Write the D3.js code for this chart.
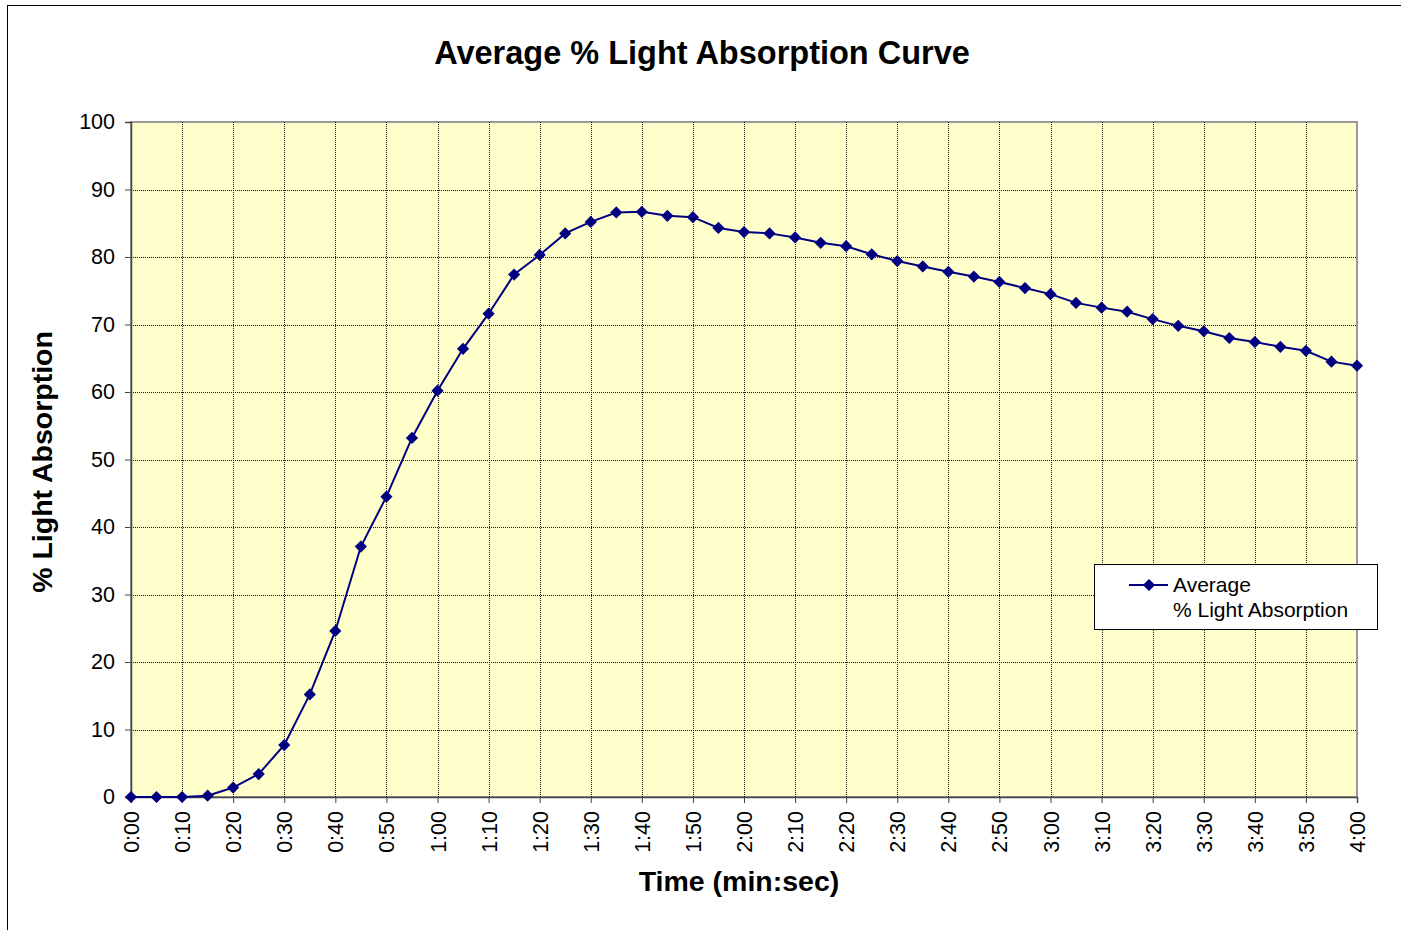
<!DOCTYPE html>
<html>
<head>
<meta charset="utf-8">
<script src="https://cdn.jsdelivr.net/npm/d3@7"></script>
<style>
  html, body { margin: 0; padding: 0; background: #fff; }
  svg { display: block; }
  text { font-family: "Liberation Sans", Arial, sans-serif; fill: #000; }
</style>
</head>
<body>
<svg id="chart" width="1401" height="930"></svg>
<script>
// Time in seconds (every 5 s from 0:00 to 4:00)
const seconds = [0,5,10,15,20,25,30,35,40,45,50,55,60,65,70,75,80,85,90,95,100,105,110,115,120,125,130,135,140,145,150,155,160,165,170,175,180,185,190,195,200,205,210,215,220,225,230,235,240];
const absorption = [0.0,0.0,0.0,0.2,1.4,3.4,7.7,15.2,24.6,37.1,44.5,53.2,60.2,66.4,71.6,77.4,80.3,83.5,85.2,86.6,86.7,86.1,85.9,84.3,83.7,83.5,82.9,82.1,81.6,80.4,79.4,78.6,77.8,77.1,76.3,75.4,74.5,73.2,72.5,71.9,70.8,69.8,69.0,68.0,67.4,66.7,66.1,64.5,63.9];
const xTicks = [0,10,20,30,40,50,60,70,80,90,100,110,120,130,140,150,160,170,180,190,200,210,220,230,240];
const yTicks = [0,10,20,30,40,50,60,70,80,90,100];
const title = "Average % Light Absorption Curve";
const xTitle = "Time (min:sec)";
const yTitle = "% Light Absorption";
const legendLines = ["Average", "% Light Absorption"];

const fmt = s => Math.floor(s/60) + ":" + String(s%60).padStart(2,"0");

const svg = d3.select("#chart");
const L = 131, R = 1357, T = 122, B = 797;
const FONT = "'Liberation Sans', Arial, sans-serif";

// outer chart border
svg.append("rect").attr("x",7.5).attr("y",5.5).attr("width",1400).attr("height",930)
  .attr("fill","#fff").attr("stroke","#000").attr("stroke-width",1);

const x = d3.scaleLinear().domain([0,240]).range([L,R]);
const y = d3.scaleLinear().domain([0,100]).range([B,T]);

// plot area
svg.append("rect").attr("x",L).attr("y",T).attr("width",R-L).attr("height",B-T)
  .attr("fill","#FFFFCC").attr("stroke","#999").attr("stroke-width",2);

// grid
const grid = svg.append("g").attr("stroke","#000").attr("stroke-width",1).attr("stroke-dasharray","1,1").attr("opacity",0.9);
grid.selectAll("line.h").data(yTicks.filter(d=>d>0 && d<100)).join("line")
  .attr("x1",L).attr("x2",R).attr("y1",d=>Math.round(y(d))+0.5).attr("y2",d=>Math.round(y(d))+0.5);
grid.selectAll("line.v").data(xTicks.filter(d=>d>0 && d<240)).join("line")
  .attr("y1",T).attr("y2",B).attr("x1",d=>Math.round(x(d))+0.5).attr("x2",d=>Math.round(x(d))+0.5);

// axes
const yAxis = d3.axisLeft(y).tickValues(yTicks).tickSize(6).tickPadding(10);
const gy = svg.append("g").attr("transform",`translate(${L},0)`).call(yAxis);
gy.select(".domain").attr("stroke","#444").attr("stroke-width",1.5);
gy.selectAll(".tick line").attr("stroke","#444");
gy.selectAll(".tick text").style("font-size","21.5px").style("font-family",FONT).attr("fill","#000");

const xAxis = d3.axisBottom(x).tickValues(xTicks).tickFormat(fmt).tickSize(6);
const gx = svg.append("g").attr("transform",`translate(0,${B})`).call(xAxis);
gx.select(".domain").attr("stroke","#444").attr("stroke-width",1.5);
gx.selectAll(".tick line").attr("stroke","#444");
gx.selectAll(".tick text")
  .style("font-size","21.5px").style("font-family",FONT).attr("fill","#000")
  .attr("transform","rotate(-90)")
  .attr("x",-14).attr("y",0).attr("dy","0.35em")
  .attr("text-anchor","end");

// line
const line = d3.line().x((d,i)=>x(seconds[i])).y(d=>y(d));
svg.append("path").datum(absorption).attr("d",line)
  .attr("fill","none").attr("stroke","#000080").attr("stroke-width",2);

const diamond = d3.symbol().type(d3.symbolDiamond2).size(95);
svg.append("g").selectAll("path").data(absorption).join("path")
  .attr("d",diamond)
  .attr("transform",(d,i)=>`translate(${x(seconds[i])},${y(d)})`)
  .attr("fill","#000080");

// titles
svg.append("text").attr("x",702).attr("y",64).attr("text-anchor","middle")
  .style("font-size","32.5px").style("font-weight","bold").style("font-family",FONT).text(title);
svg.append("text").attr("x",739).attr("y",891).attr("text-anchor","middle")
  .style("font-size","28.5px").style("font-weight","bold").style("font-family",FONT).text(xTitle);
svg.append("text").attr("transform","translate(52,462) rotate(-90)").attr("text-anchor","middle")
  .style("font-size","28.5px").style("font-weight","bold").style("font-family",FONT).text(yTitle);

// legend
const lg = svg.append("g");
lg.append("rect").attr("x",1094.5).attr("y",564.5).attr("width",283).attr("height",65)
  .attr("fill","#fff").attr("stroke","#000").attr("stroke-width",1);
lg.append("line").attr("x1",1129).attr("x2",1168).attr("y1",585).attr("y2",585)
  .attr("stroke","#000080").attr("stroke-width",2);
lg.append("path").attr("d",diamond).attr("transform","translate(1149,585)").attr("fill","#000080");
lg.selectAll("text").data(legendLines).join("text")
  .attr("x",1173).attr("y",(d,i)=>592+i*25)
  .style("font-size","21px").style("font-family",FONT).text(d=>d);
</script>
</body>
</html>
